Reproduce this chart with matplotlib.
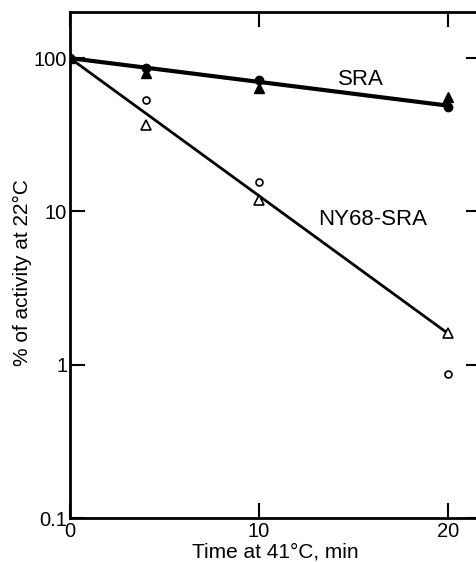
import numpy as np
import matplotlib
matplotlib.use("Agg")
from matplotlib import pyplot as plt

plt.rcParams['font.family'] = ['Liberation Sans', 'DejaVu Sans']

# SRA (filled symbols)
sra_t = [0, 4, 10, 20]
sra_circle = [100, 86, 72, 48]
sra_tri = [100, 80, 64, 56]
sra_fit_t = [0, 20]
sra_fit = [100, 49]

# NY68-SRA (open symbols)
ny_t = [4, 10, 20]
ny_circle = [53, 15.5, 0.87]
ny_tri = [36.5, 11.8, 1.6]
ny_fit_t = [0, 20]
ny_fit = [100, 1.6]

fig = plt.figure(figsize=(4.76, 5.62), dpi=100)
ax = fig.add_axes([70/476, 44/562, 411/476, 506/562])

ax.set_yscale('log')
ax.set_xlim(0, 21.75)
ax.set_ylim(0.1, 200)

ax.plot(sra_fit_t, sra_fit, color='black', lw=3, solid_capstyle='butt')
ax.plot(ny_fit_t, ny_fit, color='black', lw=2, solid_capstyle='butt')

ax.plot(sra_t, sra_circle, 'o', color='black', ms=6, ls='none')
ax.plot(sra_t, sra_tri, '^', color='black', ms=7, ls='none')
ax.plot(ny_t, ny_circle, 'o', mfc='white', mec='black', mew=1.2, ms=5, ls='none')
ax.plot(ny_t, ny_tri, '^', mfc='white', mec='black', mew=1.2, ms=6.5, ls='none')

ax.text(15.4, 73, 'SRA', fontsize=16, ha='center', va='center')
ax.text(16.0, 8.9, 'NY68-SRA', fontsize=16, ha='center', va='center')

ax.set_xticks([0, 10, 20])
ax.set_xticklabels(['0', '10', '20'])
ax.set_yticks([0.1, 1, 10, 100])
ax.set_yticklabels(['0.1', '1', '10', '100'])
ax.minorticks_off()
ax.tick_params(axis='both', which='major', direction='in', length=11, width=1.5,
               labelsize=14.5, top=True, right=True, pad=2)
ax.tick_params(axis='x', pad=3)

for s in ax.spines.values():
    s.set_linewidth(2)

ax.set_xlabel('Time at 41°C, min', fontsize=15, labelpad=1)
ax.set_ylabel('% of activity at 22°C', fontsize=15)
ax.yaxis.set_label_coords(-0.093, 0.486)

fig.savefig('out.png', dpi=100)
